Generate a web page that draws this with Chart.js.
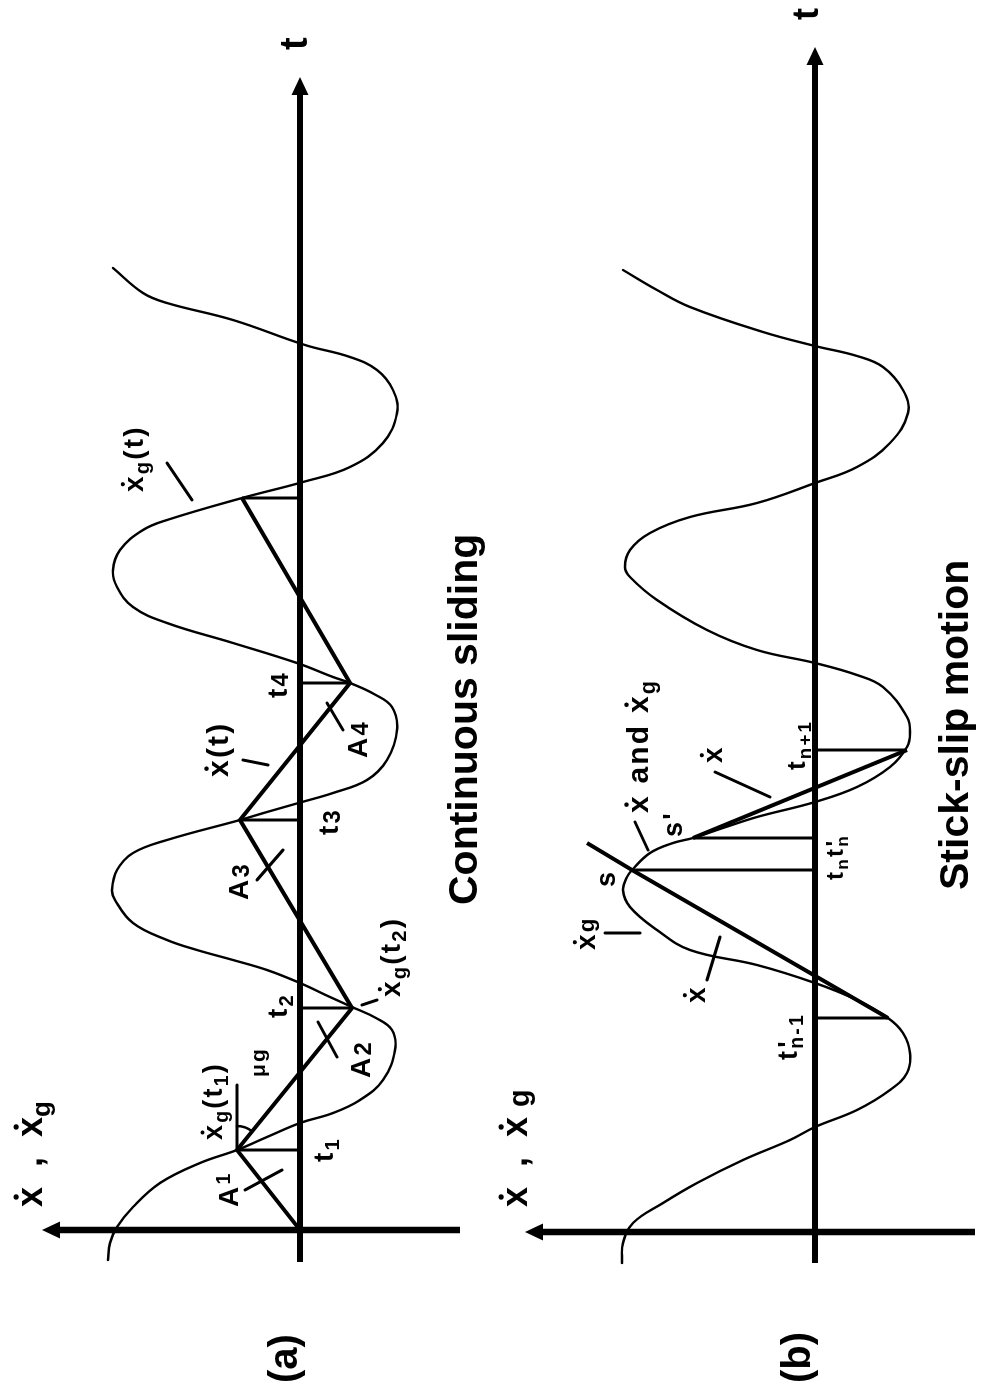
<!DOCTYPE html>
<html>
<head>
<meta charset="utf-8">
<script src="https://cdn.jsdelivr.net/npm/chart.js@4.4.1/dist/chart.umd.min.js"></script>
<style>
  html, body { margin: 0; padding: 0; background: #fff; width: 981px; height: 1395px; overflow: hidden; }
  /* the figure is laid out landscape and turned a quarter turn so time runs up the page */
  #fig { position: absolute; left: 0; top: 0; width: 1395px; height: 981px; background: #fff;
         transform-origin: 0 0; transform: translate(0, 1395px) rotate(-90deg); }
  #fig canvas { position: absolute; left: 0; }
  #cA { top: 0; }
  #cB { top: 490px; }
</style>
</head>
<body>
<div id="fig">
  <canvas id="cA" width="1395" height="490"></canvas>
  <canvas id="cB" width="1395" height="491"></canvas>
</div>
<script>
// ---------- (a) continuous sliding ----------
// ground velocity x_g(t)
const sineA_t = [-0.30,-0.13,0.03,0.23,0.47,0.67,0.80,0.93,1.07,1.17,1.30,1.50,1.80,2.00,2.12,2.23,2.33,2.47,2.60,2.70,
                 2.80,2.90,3.07,3.30,3.40,3.60,3.77,3.90,4.10,4.18,4.28,4.37,4.50,4.70,5.00,5.23,5.36,5.47,5.53,5.67,
                 5.87,6.07,6.23,6.43,6.60,6.80,7.00,7.10,7.32,7.48,7.63,7.87,8.17,8.40,8.60,8.73,8.85,9.10,9.27,9.37,9.62];
const sineA_v = [1.92,1.90,1.83,1.67,1.40,1.00,0.63,0.33,0.00,-0.33,-0.60,-0.83,-0.95,-0.92,-0.76,-0.52,-0.30,0.00,0.33,0.67,
                 1.03,1.33,1.67,1.85,1.88,1.83,1.67,1.33,0.60,0.33,-0.02,-0.33,-0.67,-0.87,-0.97,-0.92,-0.74,-0.50,-0.33,0.03,
                 0.67,1.33,1.67,1.83,1.87,1.80,1.57,1.33,0.58,-0.03,-0.50,-0.83,-0.97,-0.93,-0.77,-0.50,-0.05,0.67,1.33,1.57,1.87];
// block velocity x(t): straight segments between the switching instants t1..t5
const slideA_t = [0, 0.80, 2.22, 4.10, 5.47, 7.32];
const slideA_v = [0, 0.63, -0.52, 0.60, -0.50, 0.58];

// ---------- (b) stick-slip motion ----------
const sineB_t = [-0.31,-0.11,0.09,0.29,0.49,0.72,0.92,1.05,1.22,1.42,1.59,1.79,1.99,2.14,2.32,2.49,2.67,2.82,3.02,3.25,
                 3.42,3.55,3.62,3.79,3.89,3.94,4.04,4.15,4.30,4.45,4.65,4.85,4.99,5.15,5.45,5.57,5.69,5.82,6.02,6.32,
                 6.55,6.65,6.82,6.99,7.15,7.29,7.49,7.65,7.89,8.19,8.42,8.65,8.76,8.86,9.00,9.25,9.42,9.62];
const sineB_v = [1.93,1.92,1.82,1.52,1.18,0.72,0.25,0.00,-0.42,-0.75,-0.92,-0.95,-0.88,-0.73,-0.42,0.00,0.58,1.25,1.58,1.85,
                 1.92,1.88,1.83,1.65,1.42,1.22,0.92,0.58,0.00,-0.42,-0.75,-0.92,-0.95,-0.92,-0.68,-0.42,0.00,0.58,1.08,1.58,
                 1.85,1.90,1.85,1.65,1.25,0.58,0.00,-0.42,-0.75,-0.93,-0.88,-0.68,-0.42,0.00,0.52,1.25,1.58,1.92];
// slip from t'n-1 up to s (line carried a little past s), then slip again from s' to tn+1
const slipB1_t = [2.14, 3.62, 3.89];
const slipB1_v = [-0.73, 1.83, 2.28];
const slipB2_t = [3.94, 4.82];
const slipB2_v = [1.22, -0.92];
// instants marked with drop lines: t'n-1, tn (s), t'n (s'), tn+1
const dropB_t = [2.14, 3.62, 3.94, 4.82];
const dropB_v = [-0.73, 1.83, 1.22, -0.92];

const FONT = '"Liberation Sans", Arial, Helvetica, sans-serif';

// text pieces: plain, dotted x (time derivative), subscripts, primes
const T = s => ({ text: s });
const XD = () => ({ text: 'x', dot: true });
const SUB = (s, k = 0.72, d = 0.22) => ({ text: s, scale: k, dy: d });
const PRIME = (dx = 0.02) => ({ text: "'", overlay: true, dx });

function pts(ts, vs) { return ts.map((t, i) => ({ x: t, y: vs[i] })); }
function drops(ts, vs) {
  const out = [];
  ts.forEach((t, i) => { out.push({ x: t, y: 0 }, { x: t, y: vs[i] }, { x: t, y: null }); });
  return out;
}

function drawRich(ctx, lab, px, py) {
  const size = lab.size;
  const weight = lab.weight || 'bold';
  const track = lab.track !== undefined ? lab.track : (size < 35 ? 2.2 : 0);
  let x = px;
  for (const r of lab.runs) {
    const s = size * (r.scale || 1);
    ctx.font = `${weight} ${s}px ${FONT}`;
    const y = py + (r.dy || 0) * size;
    let xx = x + (r.dx || 0) * size;
    for (const ch of r.text) {
      ctx.fillText(ch, xx, y);
      const w = ctx.measureText(ch).width;
      if (r.dot) {
        ctx.beginPath();
        ctx.arc(xx + w / 2, y - s * 0.519 - s * 0.2, s * 0.075, 0, Math.PI * 2);
        ctx.fill();
      }
      xx += w + track;
    }
    if (!r.overlay) x = xx;
  }
}

function figurePlugin(cfg) {
  return {
    id: 'figure',
    beforeDatasetsDraw(chart) {
      const ctx = chart.ctx, xs = chart.scales.x, ys = chart.scales.y;
      const X = t => xs.getPixelForValue(t), Y = v => ys.getPixelForValue(v);
      ctx.save();
      ctx.fillStyle = '#000'; ctx.strokeStyle = '#000'; ctx.lineCap = 'butt';
      // time axis with arrow
      const y0 = Y(0), tip = X(cfg.tAxis[1]);
      ctx.lineWidth = 6;
      ctx.beginPath(); ctx.moveTo(X(cfg.tAxis[0]), y0); ctx.lineTo(tip - 14, y0); ctx.stroke();
      ctx.beginPath(); ctx.moveTo(tip, y0); ctx.lineTo(tip - 18, y0 - 8.5); ctx.lineTo(tip - 18, y0 + 8.5); ctx.closePath(); ctx.fill();
      // velocity axis with arrow
      const x0 = X(0), vtip = Y(cfg.vAxis[1]);
      ctx.lineWidth = 6.5;
      ctx.beginPath(); ctx.moveTo(x0, Y(cfg.vAxis[0])); ctx.lineTo(x0, vtip + 14); ctx.stroke();
      ctx.beginPath(); ctx.moveTo(x0, vtip); ctx.lineTo(x0 - 8.5, vtip + 18); ctx.lineTo(x0 + 8.5, vtip + 18); ctx.closePath(); ctx.fill();
      ctx.restore();
    },
    afterDatasetsDraw(chart) {
      const ctx = chart.ctx, xs = chart.scales.x, ys = chart.scales.y;
      const X = t => xs.getPixelForValue(t), Y = v => ys.getPixelForValue(v);
      ctx.save();
      ctx.fillStyle = '#000'; ctx.strokeStyle = '#000';
      // leader strokes from labels to curves
      ctx.lineWidth = 3; ctx.lineCap = 'round';
      for (const L of cfg.leaders) {
        ctx.beginPath(); ctx.moveTo(X(L[0]), Y(L[1])); ctx.lineTo(X(L[2]), Y(L[3])); ctx.stroke();
      }
      // angle mark for the slope
      ctx.lineWidth = 2.5;
      for (const a of cfg.arcs) {
        const cx = X(a.t), cy = Y(a.v);
        const ang = Math.atan2(Y(a.toV) - cy, X(a.toT) - cx);
        ctx.beginPath(); ctx.arc(cx, cy, a.r, 0, ang); ctx.stroke();
      }
      ctx.textAlign = 'left'; ctx.textBaseline = 'alphabetic';
      for (const lab of cfg.labels) drawRich(ctx, lab, X(lab.t), Y(lab.v));
      ctx.restore();
    }
  };
}

function makePanel(id, cfg, datasets) {
  return new Chart(document.getElementById(id), {
    type: 'line',
    data: { datasets },
    options: {
      responsive: false, animation: false, devicePixelRatio: 1, events: [],
      layout: { padding: 0, autoPadding: false },
      plugins: { legend: { display: false }, tooltip: { enabled: false }, title: { display: false } },
      elements: { point: { radius: 0, hoverRadius: 0 } },
      scales: {
        x: { type: 'linear', display: false, min: cfg.tRange[0], max: cfg.tRange[1] },
        y: { type: 'linear', display: false, min: cfg.vRange[0], max: cfg.vRange[1] }
      }
    },
    plugins: [figurePlugin(cfg)]
  });
}

const curve = (ts, vs) => ({ data: pts(ts, vs), borderColor: '#000', borderWidth: 2.4,
  tension: 0.4, fill: false, borderCapStyle: 'round', clip: false });
const straight = (data, w) => ({ data, borderColor: '#000', borderWidth: w, tension: 0,
  spanGaps: false, fill: false, borderJoinStyle: 'miter', borderCapStyle: 'butt', clip: false });

// panel (a)
makePanel('cA', {
  tRange: [-1.65, 12.30], vRange: [-1.90, 3.00],
  tAxis: [-0.32, 11.53], vAxis: [-1.60, 2.58],
  leaders: [
    [0.40, 0.55, 0.60, 0.18],
    [2.08, -0.18, 1.73, -0.37],
    [2.25, -0.62, 2.30, -0.77],
    [3.50, 0.43, 3.80, 0.17],
    [4.70, 0.57, 4.65, 0.32],
    [5.27, -0.27, 5.00, -0.43],
    [7.67, 1.33, 7.30, 1.08],
    [0.80, 0.63, 1.45, 0.63]
  ],
  arcs: [{ t: 0.80, v: 0.63, toT: 2.22, toV: -0.52, r: 24 }],
  labels: [
    { t: 0.23, v: 2.58, size: 36, runs: [XD(), T('  ,  '), XD(), SUB('g')] },
    { t: -1.53, v: 0.03, size: 40, runs: [T('(a)')] },
    { t: 11.80, v: -0.07, size: 38, runs: [T('t')] },
    { t: 0.90, v: 0.78, size: 27, runs: [XD(), SUB('g'), T('(t'), SUB('1'), T(')')] },
    { t: 1.53, v: 0.35, size: 21, runs: [T('μg')] },
    { t: 0.23, v: 0.62, size: 28, runs: [T('A'), { text: '1', scale: 0.7, dy: -0.28 }] },
    { t: 0.68, v: -0.33, size: 28, runs: [T('t'), SUB('1')] },
    { t: 2.12, v: 0.13, size: 28, runs: [T('t'), SUB('2')] },
    { t: 1.52, v: -0.70, size: 28, runs: [T('A'), SUB('2', 0.85, 0.05)] },
    { t: 2.33, v: -1.00, size: 28, runs: [XD(), SUB('g'), T('(t'), SUB('2'), T(')')] },
    { t: 3.30, v: 0.52, size: 28, runs: [T('A'), SUB('3', 0.85, 0.05)] },
    { t: 3.95, v: -0.38, size: 28, runs: [T('t'), SUB('3', 0.85, 0.08)] },
    { t: 4.53, v: 0.72, size: 30, runs: [XD(), T('(t)')] },
    { t: 5.32, v: 0.13, size: 28, runs: [T('t'), SUB('4', 0.85, 0.05)] },
    { t: 4.72, v: -0.67, size: 28, runs: [T('A'), SUB('4', 0.85, 0.05)] },
    { t: 7.38, v: 1.57, size: 28, runs: [XD(), SUB('g'), T('(t)')] },
    { t: 3.25, v: -1.77, size: 41, runs: [T('Continuous sliding')] }
  ]
}, [
  curve(sineA_t, sineA_v),
  straight(pts(slideA_t, slideA_v), 4),
  straight(drops(slideA_t.slice(1), slideA_v.slice(1)), 3)
]);

// panel (b)
makePanel('cB', {
  tRange: [-1.63, 12.32], vRange: [-1.66, 3.25],
  tAxis: [-0.31, 11.85], vAxis: [-1.60, 2.90],
  leaders: [
    [2.52, 1.08, 2.95, 0.95],
    [2.99, 2.10, 2.99, 1.75],
    [4.10, 1.80, 3.82, 1.67],
    [4.60, 1.00, 4.35, 0.45]
  ],
  arcs: [],
  labels: [
    { t: 0.25, v: 2.88, size: 36, runs: [XD(), T('  ,  '), XD(), T(' '), SUB('g', 0.8, 0.06)] },
    { t: -1.51, v: 0.05, size: 40, runs: [T('(b)')] },
    { t: 12.12, v: -0.03, size: 36, runs: [T('t')] },
    { t: 1.72, v: 0.18, size: 27, runs: [T('t'), PRIME(0.04), SUB('n-1')] },
    { t: 2.29, v: 1.10, size: 28, runs: [XD()] },
    { t: 2.82, v: 2.20, size: 28, runs: [XD(), SUB('g', 0.8, -0.05)] },
    { t: 3.45, v: 2.00, size: 27, runs: [T('s')] },
    { t: 3.95, v: 1.33, size: 27, runs: [T('s'), T("'")] },
    { t: 4.19, v: 1.67, size: 30, runs: [XD(), T(' and '), XD(), SUB('g')] },
    { t: 4.69, v: 0.93, size: 28, runs: [XD()] },
    { t: 4.62, v: 0.10, size: 26, runs: [T('t'), SUB('n+1')] },
    { t: 3.52, v: -0.28, size: 24, runs: [T('t'), SUB('n'), T('t'), PRIME(0.02), SUB('n')] },
    { t: 3.42, v: -1.53, size: 41, runs: [T('Stick-slip motion')] }
  ]
}, [
  curve(sineB_t, sineB_v),
  straight(pts(slipB1_t, slipB1_v), 4),
  straight(pts(slipB2_t, slipB2_v), 4),
  straight(drops(dropB_t, dropB_v), 3)
]);
</script>
</body>
</html>
